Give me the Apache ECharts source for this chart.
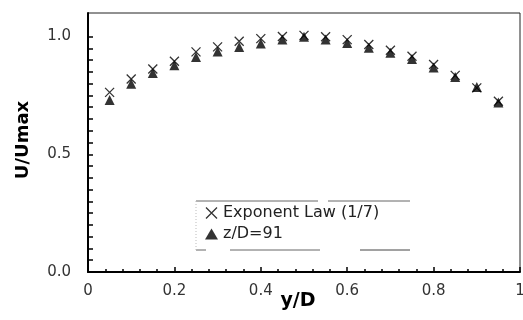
<!DOCTYPE html>
<html>
<head>
<meta charset="utf-8">
<script src="https://cdn.jsdelivr.net/npm/echarts@6/dist/echarts.min.js"></script>
<style>
  html, body { margin: 0; padding: 0; background: #fff; }
  #chart { width: 523px; height: 320px; }
</style>
</head>
<body>
<div id="chart"></div>
<script>
// Velocity profile across the duct: y/D positions and normalised velocities
const yD = [0.05, 0.10, 0.15, 0.20, 0.25, 0.30, 0.35, 0.40, 0.45, 0.50,
            0.55, 0.60, 0.65, 0.70, 0.75, 0.80, 0.85, 0.90, 0.95];
const exponentLaw = [0.763, 0.820, 0.862, 0.895, 0.935, 0.956, 0.980, 0.991, 1.000, 1.005,
                     0.999, 0.987, 0.966, 0.942, 0.916, 0.881, 0.835, 0.782, 0.725];
const measured = [0.730, 0.800, 0.845, 0.878, 0.913, 0.937, 0.956, 0.970, 0.987, 0.999,
                  0.987, 0.973, 0.952, 0.931, 0.905, 0.869, 0.828, 0.786, 0.720];
const seriesNames = ['Exponent Law (1/7)', 'z/D=91'];
const xLabels = [0, 0.2, 0.4, 0.6, 0.8, 1];
const yLabels = [0, 0.5, 1.0];
const yTicks = [0, 0.05, 0.1, 0.15, 0.2, 0.25, 0.3, 0.35, 0.4, 0.45, 0.5,
                0.55, 0.6, 0.65, 0.7, 0.75, 0.8, 0.85, 0.9, 0.95, 1.0];

const crossPath = 'path://M0,0L10,10M10,0L0,10';
const font = '"DejaVu Sans", "Liberation Sans", Arial, sans-serif';

const chart = echarts.init(document.getElementById('chart'), null, { renderer: 'canvas' });

chart.setOption({
  animation: false,
  backgroundColor: '#fff',
  grid: {
    left: 88, top: 13, right: 3, bottom: 48,
    outerBoundsMode: 'none',
    containLabel: false,
    show: true, borderColor: '#222', borderWidth: 1
  },
  legend: {
    left: 200, top: 200,
    orient: 'vertical',
    itemGap: 5,
    itemWidth: 13, itemHeight: 11,
    textStyle: { fontFamily: font, fontSize: 16, color: '#222' },
    data: [
      { name: seriesNames[0], icon: crossPath,
        itemStyle: { color: 'transparent', borderColor: '#000', borderWidth: 1.3 } },
      { name: seriesNames[1], icon: 'triangle',
        itemStyle: { color: '#000' } }
    ]
  },
  graphic: [
    // broken rules framing the key
    { type: 'line', shape: { x1: 196, y1: 201, x2: 318, y2: 201 }, style: { stroke: '#666', lineWidth: 1 } },
    { type: 'line', shape: { x1: 328, y1: 201, x2: 410, y2: 201 }, style: { stroke: '#666', lineWidth: 1 } },
    { type: 'line', shape: { x1: 196, y1: 250, x2: 206, y2: 250 }, style: { stroke: '#666', lineWidth: 1 } },
    { type: 'line', shape: { x1: 230, y1: 250, x2: 320, y2: 250 }, style: { stroke: '#666', lineWidth: 1 } },
    { type: 'line', shape: { x1: 360, y1: 250, x2: 410, y2: 250 }, style: { stroke: '#444', lineWidth: 1 } },
    { type: 'line', shape: { x1: 196, y1: 201, x2: 196, y2: 250 }, style: { stroke: '#bbb', lineWidth: 1, lineDash: [1, 2] } }
  ],
  xAxis: {
    type: 'value',
    min: 0, max: 1, interval: 0.2,
    name: 'y/D',
    nameLocation: 'middle',
    nameGap: 20,
    nameMoveOverlap: false,
    nameTextStyle: { fontFamily: font, fontSize: 19, fontWeight: 'bold', color: '#000',
                     padding: [0, 12, 0, 0] },
    axisLine: { show: true, lineStyle: { color: '#000', width: 2 } },
    axisTick: { show: true, inside: true, length: 5, lineStyle: { color: '#000', width: 1.5 } },
    minorTick: { show: true, splitNumber: 5, length: 3, lineStyle: { color: '#000', width: 1.5 } },
    splitLine: { show: false },
    axisLabel: {
      customValues: xLabels,
      margin: 12,
      fontFamily: font, fontSize: 15, color: '#333',
      formatter: v => (v === 0 || v === 1) ? String(v) : v.toFixed(1)
    }
  },
  yAxis: {
    type: 'value',
    min: 0, max: 1.1,
    name: 'U/Umax',
    nameLocation: 'middle',
    nameGap: 56,
    nameMoveOverlap: false,
    nameTextStyle: { fontFamily: font, fontSize: 18, fontWeight: 'bold', color: '#000',
                     padding: [0, 0, 0, 5] },
    axisLine: { show: true, lineStyle: { color: '#000', width: 2 } },
    axisTick: { show: true, inside: true, length: 5, customValues: yTicks,
                lineStyle: { color: '#000', width: 1.5 } },
    splitLine: { show: false },
    axisLabel: {
      customValues: yLabels,
      margin: 17,
      fontFamily: font, fontSize: 15, color: '#333',
      formatter: v => v.toFixed(1)
    }
  },
  series: [
    {
      name: seriesNames[0],
      type: 'scatter',
      symbol: crossPath,
      symbolSize: 9,
      itemStyle: { color: 'transparent', borderColor: '#000', borderWidth: 1.3 },
      data: yD.map((x, i) => [x, exponentLaw[i]]),
      z: 3
    },
    {
      name: seriesNames[1],
      type: 'scatter',
      symbol: 'triangle',
      symbolSize: 10,
      itemStyle: { color: '#000' },
      data: yD.map((x, i) => [x, measured[i]]),
      z: 2
    }
  ]
});
</script>
</body>
</html>
